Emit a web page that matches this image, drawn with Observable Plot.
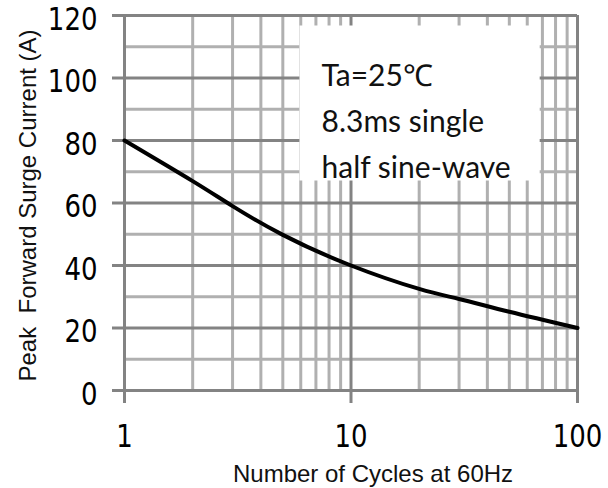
<!DOCTYPE html>
<html><head><meta charset="utf-8">
<script src="https://cdn.jsdelivr.net/npm/d3@7"></script>
<script src="https://cdn.jsdelivr.net/npm/@observablehq/plot@0.6"></script>
<style>
html,body{margin:0;padding:0;background:#fff;}
#chart svg{display:block;}
</style></head><body><div id="chart"></div>
<script>
const cycles = [1, 2, 3, 5, 10, 20, 30, 50, 100];
const surgeCurrent = [80, 67, 59, 49.8, 40, 32.5, 29.3, 25.2, 20];
const xMajorTicks = [1, 10, 100];
const xMinorTicks = [2, 3, 4, 5, 6, 7, 8, 9, 20, 30, 40, 50, 60, 70, 80, 90];
const yMajorTicks = [0, 20, 40, 60, 80, 100, 120];
const yMinorTicks = [10, 30, 50, 70, 90, 110];
const xTitle = "Number of Cycles at 60Hz";
const yTitle = "Peak  Forward Surge Current (A)";
const noteLines = ["Ta=25℃", "8.3ms single", "half sine-wave"];

const points = cycles.map((c, i) => ({cycles: c, current: surgeCurrent[i]}));
const MAJOR = "#838383", MINOR = "#b0b0b0", GW = 3;

const chart = Plot.plot({
  width: 608, height: 488,
  marginLeft: 124, marginRight: 31, marginTop: 15, marginBottom: 98,
  x: {type: "log", domain: [1, 100]},
  y: {domain: [0, 120]},
  style: {background: "white", fontFamily: "DejaVu Sans"},
  marks: [
    Plot.ruleX(xMinorTicks, {stroke: MINOR, strokeWidth: GW}),
    Plot.ruleY(yMinorTicks, {stroke: MINOR, strokeWidth: GW}),
    Plot.ruleX(xMajorTicks, {stroke: MAJOR, strokeWidth: GW}),
    Plot.ruleY(yMajorTicks, {stroke: MAJOR, strokeWidth: GW}),
    Plot.axisX({ticks: xMajorTicks, tickFormat: d => String(d), tickSize: 13, tickPadding: 20,
      stroke: MAJOR, strokeWidth: GW, fontSize: 26, fontFamily: "DejaVu Sans", label: null}),
    Plot.axisY({ticks: yMajorTicks, tickFormat: d => String(d), tickSize: 12, tickPadding: 15,
      stroke: MAJOR, strokeWidth: GW, fontSize: 26, fontFamily: "DejaVu Sans", label: null}),
    Plot.text([noteLines.join("\n")], {text: d => d, frameAnchor: "top-left", dx: 197, dy: 162,
      textAnchor: "start", lineAnchor: "bottom", lineHeight: 46 / 30, fontSize: 30, fontFamily: "Lato", fill: "#111"}),
    Plot.line(points, {x: "cycles", y: "current", curve: "natural", stroke: "black", strokeWidth: 4}),
    Plot.text([xTitle], {text: d => d, frameAnchor: "bottom", dx: 22, dy: 91, lineAnchor: "bottom",
      fontSize: 24, fontFamily: "Liberation Sans", fill: "#111"}),
    Plot.text([yTitle], {text: d => d, frameAnchor: "left", dx: -89, dy: 2.5, rotate: -90,
      textAnchor: "middle", lineAnchor: "bottom",
      fontSize: 24, fontFamily: "Liberation Sans", fill: "#111"})
  ]
});
document.getElementById("chart").appendChild(chart);

// stretch tick labels vertically like the reference's tall digits
const svg = d3.select(chart);
svg.selectAll('g[aria-label="x-axis tick label"] text').each(function () {
  const t = this.getAttribute("transform") || "";
  this.setAttribute("transform", t + " scale(1,1.25)");
});
svg.selectAll('g[aria-label="y-axis tick label"] text').each(function () {
  const t = this.getAttribute("transform") || "";
  this.setAttribute("transform", t + " translate(0,4) scale(1,1.25)");
});

// white background box behind the note text
const note = svg.selectAll("text").filter(function () { return this.textContent.startsWith("Ta="); }).node();
if (note) {
  const sr = chart.getBoundingClientRect();
  const b = note.getBoundingClientRect();
  const g = note.parentNode;
  const rect = document.createElementNS("http://www.w3.org/2000/svg", "rect");
  const x0 = b.left - sr.left - 22, x1 = b.right - sr.left + 29;
  const y0 = b.top - sr.top - 30, y1 = b.bottom - sr.top - 3;
  rect.setAttribute("x", x0); rect.setAttribute("y", y0);
  rect.setAttribute("width", x1 - x0); rect.setAttribute("height", y1 - y0);
  rect.setAttribute("fill", "white");
  g.parentNode.insertBefore(rect, g);
}
</script></body></html>
